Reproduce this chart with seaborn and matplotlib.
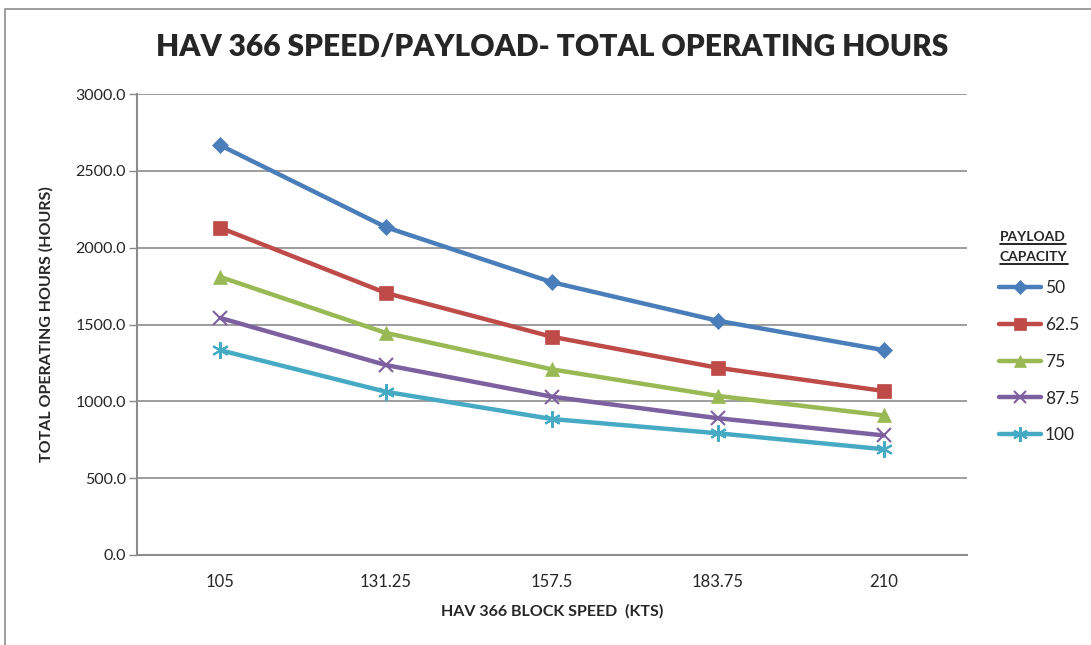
import matplotlib
matplotlib.use("Agg")
import matplotlib.pyplot as plt
import seaborn as sns
import pandas as pd
from matplotlib.lines import Line2D
from matplotlib.patches import Rectangle

speeds = ["105", "131.25", "157.5", "183.75", "210"]
payloads = ["50", "62.5", "75", "87.5", "100"]
hours_50 = [2667, 2133, 1775, 1524, 1333]
hours_62_5 = [2130, 1705, 1420, 1218, 1067]
hours_75 = [1810, 1445, 1208, 1035, 908]
hours_87_5 = [1543, 1236, 1030, 890, 778]
hours_100 = [1333, 1062, 885, 792, 688]
series = [hours_50, hours_62_5, hours_75, hours_87_5, hours_100]

colors = ["#4A7EBB", "#BE4B48", "#98B954", "#7D60A0", "#46AAC5"]
markers = ["D", "s", "^", "x", (6, 2, 0)]
msizes = [8, 10, 10, 10, 12]

rows = []
for p, vals in zip(payloads, series):
    for i, (s, v) in enumerate(zip(speeds, vals)):
        rows.append({"payload": p, "pos": i, "speed": s, "hours": v})
df = pd.DataFrame(rows)

sns.set_theme(style="white")
plt.rcParams["font.family"] = ["Lato", "DejaVu Sans"]

fig = plt.figure(figsize=(10.91, 6.45), dpi=100)
ax = fig.add_axes([137/1091, 1-555/645, (967-137)/1091, (555-94)/645])

for p, c, m, ms in zip(payloads, colors, markers, msizes):
    sub = df[df["payload"] == p]
    sns.lineplot(data=sub, x="pos", y="hours", ax=ax, color=c, linewidth=3.2,
                 marker=m, markersize=ms, markeredgecolor=c, markeredgewidth=1.5 if m in ("x", (6, 2, 0)) else 0.5,
                 label=p, legend=False)

ax.set_xlim(-0.5, 4.5)
ax.set_ylim(0, 3000)
ax.set_yticks([0, 500, 1000, 1500, 2000, 2500, 3000])
ax.set_yticklabels([f"{v:.1f}" for v in [0, 500, 1000, 1500, 2000, 2500, 3000]], fontsize=11.5)
ax.set_xticks(range(5))
ax.set_xticklabels(speeds, fontsize=12)
ax.set_xticks([-0.5, 0.5, 1.5, 2.5, 3.5, 4.5], minor=True)
ax.tick_params(axis="x", which="major", length=0, pad=14)
ax.tick_params(axis="x", which="minor", length=6, color="#888888", direction="out", width=1)
ax.tick_params(axis="y", which="major", length=6, color="#888888", direction="out", width=1, pad=2, left=True)
ax.grid(axis="y", color="#8C8C8C", linewidth=1.2)
ax.set_axisbelow(True)
for s in ["top", "right"]:
    ax.spines[s].set_visible(False)
for s in ["left", "bottom"]:
    ax.spines[s].set_color("#8C8C8C")
    ax.spines[s].set_linewidth(1.5)

ax.set_xlabel("HAV 366 BLOCK SPEED  (KTS)", fontsize=11.5, fontweight="bold")
ax.set_ylabel("TOTAL OPERATING HOURS (HOURS)", fontsize=11.5, fontweight="bold")
ax.yaxis.set_label_coords((54 - 137) / 830, 0.5)
ax.xaxis.set_label_coords((552 - 137) / 830, (555 - 604) / 461)

fig.text(552/1091, 1-47/645, "HAV 366 SPEED/PAYLOAD- TOTAL OPERATING HOURS",
         ha="center", va="center", fontsize=21.5, fontweight="heavy")

# legend
handles = [Line2D([0], [0], color=c, linewidth=3.2, marker=m, markersize=ms * 0.9,
                  markeredgecolor=c, markeredgewidth=1.5 if m in ("x", (6, 2, 0)) else 0.5)
           for c, m, ms in zip(colors, markers, msizes)]
leg = fig.legend(handles, payloads, loc="upper left", bbox_to_anchor=(999/1091, 1-280/645),
                 frameon=False, fontsize=12.5, handlelength=2.4, handletextpad=0.25,
                 labelspacing=1.2, borderaxespad=0, borderpad=0)

t1 = fig.text(1000/1091, 1-237/645, "PAYLOAD", ha="left", va="center", fontsize=10, fontweight="bold")
t2 = fig.text(1000/1091, 1-257/645, "CAPACITY", ha="left", va="center", fontsize=10, fontweight="bold")
fig.canvas.draw()
r = fig.canvas.get_renderer()
for t in (t1, t2):
    bb = t.get_window_extent(r).transformed(fig.transFigure.inverted())
    fig.add_artist(Line2D([bb.x0, bb.x1], [bb.y0 - 0.002, bb.y0 - 0.002], color="black",
                          linewidth=1.2, transform=fig.transFigure))

# chart border (Excel chart area, partially cropped)
fig.add_artist(Rectangle((5/1091, -0.05), 1.1, 1 - 9/645 + 0.05, transform=fig.transFigure,
                         fill=False, edgecolor="#8C8C8C", linewidth=1.2))

fig.savefig("out.png", dpi=100)
